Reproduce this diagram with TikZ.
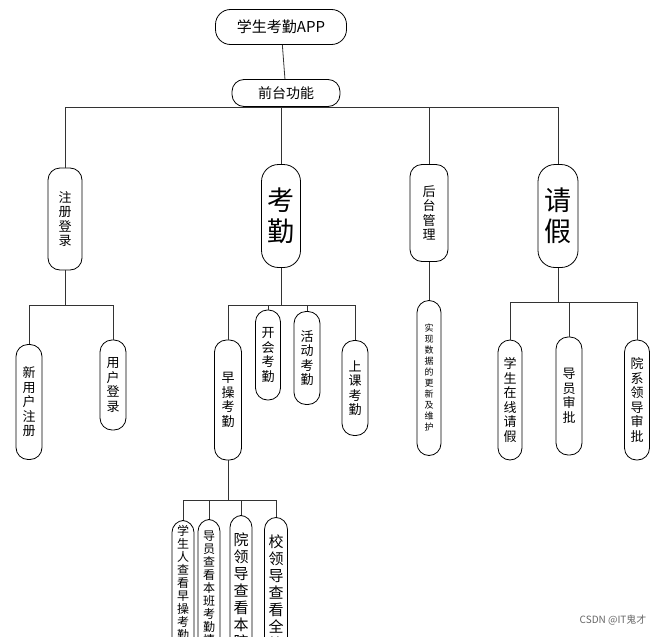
\documentclass[tikz,border=0pt]{standalone}
\usepackage{fontspec}
\setmainfont{Noto Sans CJK SC}
\usetikzlibrary{positioning}
\tikzset{
  pill/.style={draw, thick, fill=white, rounded corners=12pt, inner sep=1pt, align=center, font=\fontsize{13}{14.5}\selectfont},
  big/.style={pill, font=\fontsize{27}{31}\selectfont},
  tiny/.style={pill, font=\fontsize{9}{11}\selectfont},
  link/.style={thick, black!80}
}
\begin{document}
\begin{tikzpicture}[x=1pt, y=-1pt]
    \useasboundingbox (0,0) rectangle (656,637);
    \clip (0,0) rectangle (656,637);

    % links first, nodes on top
    \node[pill, minimum width=131pt, minimum height=35pt, rounded corners=15pt, font=\fontsize{15}{16}\selectfont] (app) at (281,27) {学生考勤APP};
    \node[pill, minimum width=108pt, minimum height=27pt, font=\fontsize{14}{16}\selectfont] (qt) at (286,93) {前台功能};
    \draw[link] (app) -- (qt);

    \node[pill, minimum width=34pt, minimum height=102pt] (zc) at (65,219) {注\\册\\登\\录};
    \node[big, minimum width=39pt, minimum height=103pt, rounded corners=17pt] (kq) at (281,216) {考\\勤};
    \node[pill, minimum width=38pt, minimum height=97pt] (ht) at (429,213) {后\\台\\管\\理};
    \node[big, minimum width=40pt, minimum height=103pt, rounded corners=17pt] (qj) at (558,216) {请\\假};
    \foreach \c in {zc,kq,ht,qj}
        \draw[link] (\c.north) |- (qt.south |- 0,107) -- (qt.south);

    \node[pill, minimum width=26pt, minimum height=115pt] (xyh) at (29,402) {新\\用\\户\\注\\册};
    \node[pill, minimum width=26pt, minimum height=90pt] (yhdl) at (113,385) {用\\户\\登\\录};
    \foreach \c in {xyh,yhdl}
        \draw[link] (\c.north) |- (zc.south |- 0,305) -- (zc.south);

    \node[pill, minimum width=27pt, minimum height=120pt] (zcq) at (228,400) {早\\操\\考\\勤};
    \node[pill, minimum width=25pt, minimum height=90pt] (khq) at (268,355) {开\\会\\考\\勤};
    \node[pill, minimum width=26pt, minimum height=93pt] (hdq) at (307,358) {活\\动\\考\\勤};
    \node[pill, minimum width=26pt, minimum height=95pt] (skq) at (355,388) {上\\课\\考\\勤};
    \foreach \c in {zcq,khq,hdq,skq}
        \draw[link] (\c.north) |- (kq.south |- 0,305) -- (kq.south);

    \node[tiny, minimum width=24pt, minimum height=155pt] (sx) at (429,378) {实\\现\\数\\据\\的\\更\\新\\及\\维\\护};
    \draw[link] (ht) -- (sx);

    \node[pill, minimum width=24pt, minimum height=120pt] (xsqj) at (510,400) {学\\生\\在\\线\\请\\假};
    \node[pill, minimum width=26pt, minimum height=118pt] (dysp) at (569,396) {导\\员\\审\\批};
    \node[pill, minimum width=25pt, minimum height=120pt] (yxsp) at (637,400) {院\\系\\领\\导\\审\\批};
    \foreach \c in {xsqj,dysp,yxsp}
        \draw[link] (\c.north) |- (qj.south |- 0,302) -- (qj.south);

    \node[pill, minimum width=22pt, minimum height=150pt, anchor=north, font=\fontsize{12}{13}\selectfont] (xsr) at (183,520) {学\\生\\人\\查\\看\\早\\操\\考\\勤\\情\\况};
    \node[pill, minimum width=22pt, minimum height=150pt, anchor=north, font=\fontsize{12}{13}\selectfont] (dyck) at (209,519) {导\\员\\查\\看\\本\\班\\考\\勤\\情\\况};
    \node[pill, minimum width=22pt, minimum height=150pt, anchor=north, font=\fontsize{15}{17}\selectfont] (yld) at (241,515) {院\\领\\导\\查\\看\\本\\院};
    \node[pill, minimum width=23pt, minimum height=150pt, anchor=north, font=\fontsize{15}{17}\selectfont] (xld) at (276,517) {校\\领\\导\\查\\看\\全\\校};
    \foreach \c in {xsr,dyck,yld,xld}
        \draw[link] (\c.north) |- (zcq.south |- 0,500) -- (zcq.south);

    \node[font=\fontsize{10}{12}\selectfont, text=black!60, anchor=east] (wm) at (650,620) {CSDN @IT鬼才};
\end{tikzpicture}
\end{document}
